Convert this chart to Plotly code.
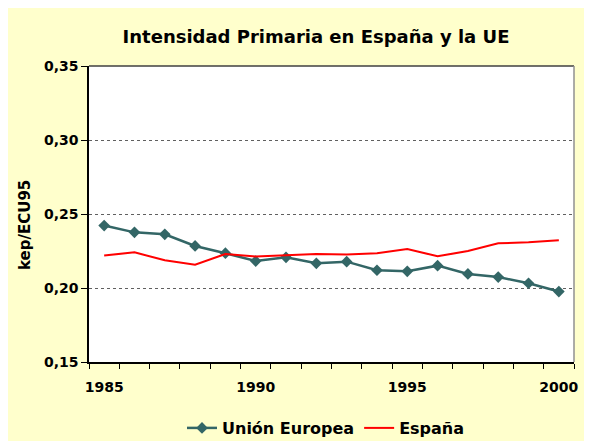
import plotly.graph_objects as go

years = list(range(1985, 2001))
ue = [0.2422, 0.2376, 0.2363, 0.2284, 0.2235, 0.2182, 0.2207, 0.2167,
      0.2178, 0.2120, 0.2113, 0.2151, 0.2095, 0.2074, 0.2032, 0.1976]
espana = [0.2219, 0.2241, 0.2187, 0.2158, 0.2230, 0.2212, 0.2221, 0.2230,
          0.2226, 0.2235, 0.2264, 0.2214, 0.2250, 0.2302, 0.2309, 0.2322]
x_ticks = [1985, 1990, 1995, 2000]
y_ticks = [0.15, 0.20, 0.25, 0.30, 0.35]

FONT = "DejaVu Sans"
TEAL = "#336666"
RED = "#FF0000"
BG = "#FFFFCC"

fig = go.Figure()
fig.add_trace(go.Scatter(
    x=years, y=ue, name="<b>Unión Europea</b>", mode="lines+markers",
    line=dict(color=TEAL, width=2.5),
    marker=dict(symbol="diamond", size=9, color=TEAL),
))
fig.add_trace(go.Scatter(
    x=years, y=espana, name="<b>España</b>", mode="lines",
    line=dict(color=RED, width=2),
))

OFF = 8  # page body margin
W, H = 592, 441
# plot area in window pixels: x 89..574, y 66..362
L = 89 - OFF
T = 66 - OFF
R = W - (574 - OFF)
B = H - (362 - OFF)
pw, ph = W - L - R, H - T - B


def px_x(p):
    return (p - OFF - L) / pw


def px_y(p):
    return (H - B - (p - OFF)) / ph


fig.update_layout(
    width=W, height=H,
    margin=dict(l=L, r=R, t=T, b=B, autoexpand=False),
    paper_bgcolor=BG,
    plot_bgcolor="white",
    separators=",.",
    font=dict(family=FONT, color="black", size=14),
    title=dict(
        text="<b>Intensidad Primaria en España y la UE</b>",
        font=dict(family=FONT, size=18, color="black"),
        x=(316 - OFF) / W, xanchor="center", xref="container",
        y=1 - (37 - OFF) / H, yanchor="middle", yref="container",
    ),
    showlegend=True,
    legend=dict(
        orientation="h",
        xref="container", yref="container",
        x=(326 - OFF) / W, xanchor="center",
        y=1 - (428 - OFF) / H, yanchor="middle",
        font=dict(family=FONT, size=16, color="black"),
        bgcolor="rgba(0,0,0,0)",
        itemwidth=30,
        tracegroupgap=0,
    ),
    shapes=[
        dict(type="line", xref="paper", yref="paper", layer="above",
             x0=0, x1=1, y0=1, y1=1, line=dict(color="#404040", width=1.5)),
        dict(type="line", xref="paper", yref="paper", layer="above",
             x0=1, x1=1, y0=0, y1=1, line=dict(color="#909090", width=1.5)),
    ],
    annotations=[
        dict(text="<b>kep/ECU95</b>", textangle=-90,
             xref="paper", yref="paper",
             x=px_x(25), y=px_y(225), xanchor="center", yanchor="middle",
             showarrow=False, font=dict(family=FONT, size=15, color="black")),
    ],
)

fig.update_xaxes(
    range=[1984.5, 2000.5],
    tickvals=x_ticks,
    ticktext=[f"<b>{v}</b>" for v in x_ticks],
    ticks="",
    showgrid=False,
    zeroline=False,
    showline=True, linecolor="black", linewidth=1.5,
    minor=dict(tick0=1984.5, dtick=1, ticks="outside", ticklen=5,
               tickcolor="black", tickwidth=1, showgrid=False),
    tickfont=dict(family=FONT, size=14, color="black"),
    ticklabelstandoff=11,
)
fig.update_yaxes(
    range=[0.15, 0.35],
    tickvals=y_ticks,
    ticktext=[f"<b>{v:.2f}</b>".replace(".", ",") for v in y_ticks],
    ticks="outside", ticklen=6, tickcolor="black", tickwidth=1,
    showgrid=True, gridcolor="#606060", griddash="dot", gridwidth=1,
    zeroline=False,
    showline=True, linecolor="black", linewidth=1.5,
    tickfont=dict(family=FONT, size=14, color="black"),
)

fig.write_html("out.html")
